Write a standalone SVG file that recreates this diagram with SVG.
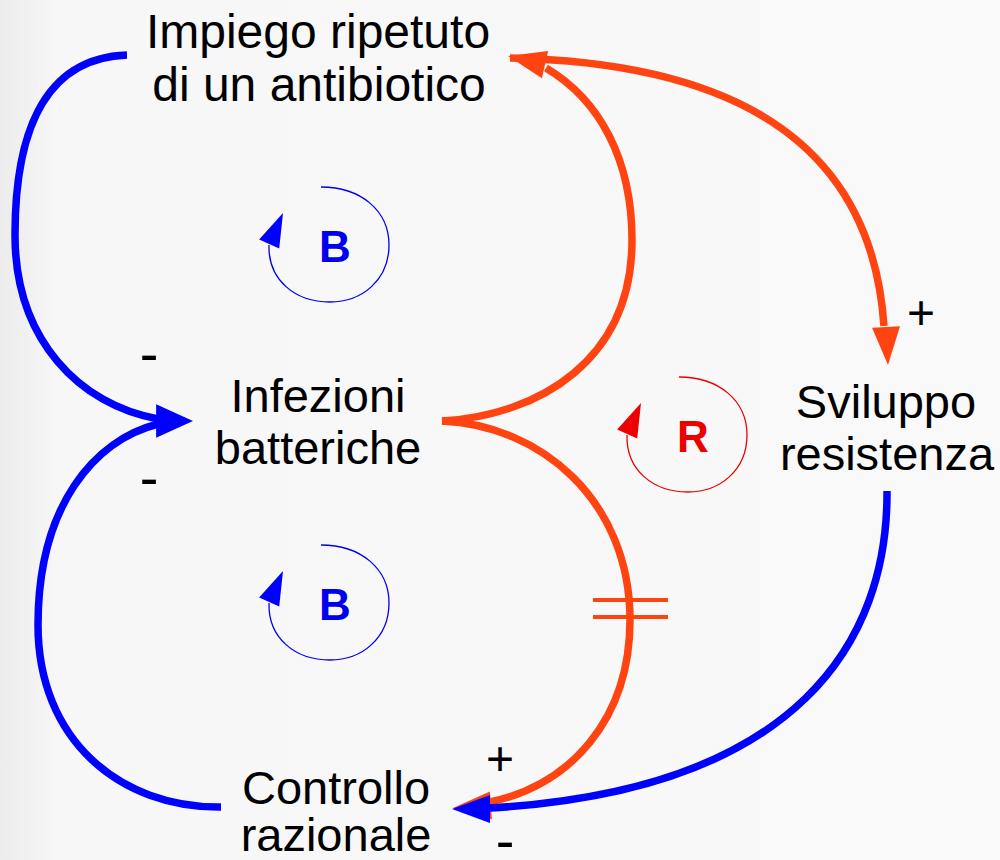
<svg xmlns="http://www.w3.org/2000/svg" xmlns:xlink="http://www.w3.org/1999/xlink" width="1000" height="860" viewBox="0 0 1000 860">
<defs>
<linearGradient id="bg" x1="0" y1="0" x2="1" y2="0">
<stop offset="0" stop-color="#ececec"/>
<stop offset="0.06" stop-color="#f7f7f7"/>
<stop offset="1" stop-color="#f9f9f9"/>
</linearGradient>
<path id="ahead" d="M0,0 L-38,-14 L-38,14 Z"/>
<path id="lhead" d="M0,0 L-34,-11 L-34,11 Z"/>
<path id="loop" d="M321,187 C360,187 389,210 389,245 C389,280 362,302 330,302 C295,302 268,280 269,245"/>
<style>
.lbl{font-family:"Liberation Sans",Arial,sans-serif;font-size:47px;fill:#000;text-anchor:middle}
.sign{font-family:"Liberation Sans",Arial,sans-serif;font-size:48px;fill:#000;text-anchor:middle}
.dash{font-family:"Liberation Sans",Arial,sans-serif;font-size:56px;fill:#000;text-anchor:middle}
.loopB{font-family:"Liberation Sans",Arial,sans-serif;font-size:44px;font-weight:bold;fill:#0000ee;text-anchor:middle}
.loopR{font-family:"Liberation Sans",Arial,sans-serif;font-size:44px;font-weight:bold;fill:#ee0000;text-anchor:middle}
.blue{fill:none;stroke:#0000ff;stroke-width:7.5}
.orange{fill:none;stroke:#ff4411;stroke-width:7.5}
.hb{fill:#0000ff}
.ho{fill:#ff4411}
.thinB{fill:none;stroke:#0000ee;stroke-width:1.3}
.thinR{fill:none;stroke:#ee0000;stroke-width:1.3}
</style>
</defs>
<rect x="0" y="0" width="1000" height="860" fill="url(#bg)"/>

<g id="connectors">
<path class="blue" d="M127,55 C40,58 15,140 15,235 C15,340 80,405 158,419"/>
<path class="blue" d="M221,807 C120,808 38,740 38,625 C38,505 95,440 158,424"/>
<use xlink:href="#ahead" class="hb" transform="translate(193,421) scale(0.97,1.2)"/>

<path class="orange" d="M442,421 C540,415 632,360 632,240 C632,160 600,100 546,68"/>
<use xlink:href="#ahead" class="ho" transform="translate(508,56) rotate(193)"/>

<path class="orange" d="M510,58 C700,62 870,120 884,326"/>
<use xlink:href="#ahead" class="ho" transform="translate(888,365) rotate(87)"/>

<path class="orange" d="M442,421 C540,425 630,500 630,620 C630,720 570,785 490,802"/>
<use xlink:href="#ahead" class="ho" transform="translate(453,808) rotate(176)"/>
<line x1="593" y1="600" x2="668" y2="600" stroke="#ff4411" stroke-width="4"/>
<line x1="593" y1="617" x2="668" y2="617" stroke="#ff4411" stroke-width="4"/>

<path class="blue" d="M887,491 C888,640 800,790 490,808"/>
<use xlink:href="#ahead" class="hb" transform="translate(452,809) rotate(180)"/>
</g>

<g id="signs">
<text class="sign" x="921" y="329">+</text>
<text class="dash" x="149" y="373">-</text>
<text class="dash" x="149" y="497">-</text>
<text class="sign" x="500" y="775">+</text>
<text class="dash" x="505" y="860">-</text>
</g>

<g id="loop-B-top">
<use xlink:href="#loop" class="thinB"/>
<use xlink:href="#lhead" class="hb" transform="translate(283,213) rotate(-66)"/>
<text class="loopB" x="335" y="262">B</text>
</g>
<g id="loop-B-bottom" transform="translate(0,358)">
<use xlink:href="#loop" class="thinB"/>
<use xlink:href="#lhead" class="hb" transform="translate(283,213) rotate(-66)"/>
<text class="loopB" x="335" y="262">B</text>
</g>
<g id="loop-R" transform="translate(358,190)">
<use xlink:href="#loop" class="thinR"/>
<use xlink:href="#lhead" fill="#ee0000" transform="translate(283,213) rotate(-66)"/>
<text class="loopR" x="335" y="262">R</text>
</g>

<g id="node-impiego">
<text class="lbl" x="318" y="48" style="font-size:48px">Impiego ripetuto</text>
<text class="lbl" x="319" y="101" style="font-size:48px">di un antibiotico</text>
</g>
<g id="node-infezioni">
<text class="lbl" x="318" y="412">Infezioni</text>
<text class="lbl" x="318" y="464">batteriche</text>
</g>
<g id="node-sviluppo">
<text class="lbl" x="886" y="418">Sviluppo</text>
<text class="lbl" x="887" y="470">resistenza</text>
</g>
<g id="node-controllo">
<text class="lbl" x="336" y="804">Controllo</text>
<text class="lbl" x="336" y="851">razionale</text>
</g>
</svg>
